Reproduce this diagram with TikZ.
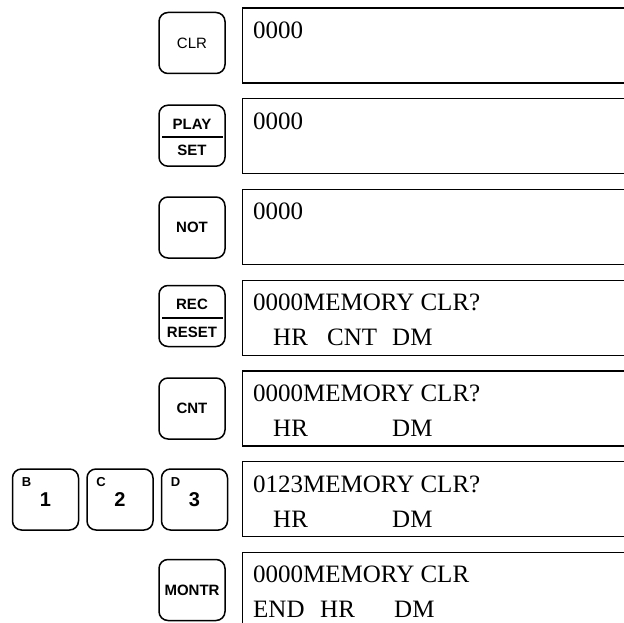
\documentclass[tikz,border=0pt]{standalone}
\usepackage{fontspec}
\setmainfont{Liberation Serif}
\newfontfamily\keyfont{Liberation Sans}
\usetikzlibrary{positioning}

\tikzset{
  key/.style={draw,line width=1.5pt,rounded corners=9pt,minimum width=66pt,minimum height=61pt,inner sep=0pt,font=\keyfont\fontsize{15}{15}\selectfont\bfseries},
  keylbl/.style={inner sep=0pt,font=\keyfont\fontsize{15}{15}\selectfont\bfseries},
  keynum/.style={key,font=\keyfont\fontsize{20}{20}\selectfont\bfseries},
  keyletter/.style={inner sep=0pt,anchor=north west,font=\keyfont\fontsize{13}{13}\selectfont\bfseries},
  keybar/.style={line width=1.5pt},
  lcd/.style={draw,line width=1.2pt,anchor=north west,minimum width=400pt,minimum height=75pt,inner sep=0pt},
  lcdtxt/.style={anchor=base west,inner sep=0pt,font=\fontsize{25}{25}\selectfont}
}

\begin{document}
\begin{tikzpicture}[x=1pt,y=-1pt]
\useasboundingbox (0,0) rectangle (624,623);

% display boxes
\node[lcd] (d1) at (242,7.5) {};
\node[lcd] (d2) at (242,98.2) {};
\node[lcd] (d3) at (242,188.9) {};
\node[lcd] (d4) at (242,279.6) {};
\node[lcd] (d5) at (242,370.3) {};
\node[lcd] (d6) at (242,461) {};
\node[lcd] (d7) at (242,551.7) {};

% keys
\node[key,font=\keyfont\fontsize{15}{15}\selectfont] (kclr) at (192,43) {CLR};
\node[key] (kplay) at (192,135.7) {};
\node[keylbl] (kplayu) at ([shift={(0,-11.5)}]kplay.center) {PLAY};
\node[keylbl] (kplayd) at ([shift={(0,15)}]kplay.center) {SET};
\draw[keybar] ([shift={(4,1.5)}]kplay.west) -- ([shift={(-3,1.5)}]kplay.east);
\node[key] (knot) at (192,227.5) {NOT};
\node[key] (krec) at (192,316) {};
\node[keylbl] (krecu) at ([shift={(0,-12)}]krec.center) {REC};
\node[keylbl] (krecd) at ([shift={(0,16)}]krec.center) {RESET};
\draw[keybar] ([shift={(4,2)}]krec.west) -- ([shift={(-3,2)}]krec.east);
\node[key] (kcnt) at (192,408.5) {CNT};
\node[keynum] (kb) at (45.5,499.5) {1};
\node[keynum,right=7pt of kb] (kc) {2};
\node[keynum,right=7pt of kc] (kd) {3};
\node[keyletter] (kbl) at ([shift={(10,9)}]kb.north west) {B};
\node[keyletter] (kcl) at ([shift={(10,9)}]kc.north west) {C};
\node[keyletter] (kdl) at ([shift={(10,9)}]kd.north west) {D};
\node[key] (kmontr) at (192,590) {MONTR};

% display texts
\node[lcdtxt] (d1a) at ([shift={(11,31)}]d1.north west) {0000};
\node[lcdtxt] (d2a) at ([shift={(11,31)}]d2.north west) {0000};
\node[lcdtxt] (d3a) at ([shift={(11,31)}]d3.north west) {0000};
\node[lcdtxt] (d4a) at ([shift={(11,31)}]d4.north west) {0000MEMORY CLR?};
\node[lcdtxt] (d4hr) at ([shift={(31,66)}]d4.north west) {HR};
\node[lcdtxt] (d4cnt) at ([shift={(85,66)}]d4.north west) {CNT};
\node[lcdtxt] (d4dm) at ([shift={(150,66)}]d4.north west) {DM};
\node[lcdtxt] (d5a) at ([shift={(11,31)}]d5.north west) {0000MEMORY CLR?};
\node[lcdtxt] (d5hr) at ([shift={(31,66)}]d5.north west) {HR};
\node[lcdtxt] (d5dm) at ([shift={(150,66)}]d5.north west) {DM};
\node[lcdtxt] (d6a) at ([shift={(11,31)}]d6.north west) {0123MEMORY CLR?};
\node[lcdtxt] (d6hr) at ([shift={(31,66)}]d6.north west) {HR};
\node[lcdtxt] (d6dm) at ([shift={(150,66)}]d6.north west) {DM};
\node[lcdtxt] (d7a) at ([shift={(11,31)}]d7.north west) {0000MEMORY CLR};
\node[lcdtxt] (d7end) at ([shift={(11,66)}]d7.north west) {END};
\node[lcdtxt] (d7hr) at ([shift={(78,66)}]d7.north west) {HR};
\node[lcdtxt] (d7dm) at ([shift={(152,66)}]d7.north west) {DM};
\end{tikzpicture}
\end{document}
